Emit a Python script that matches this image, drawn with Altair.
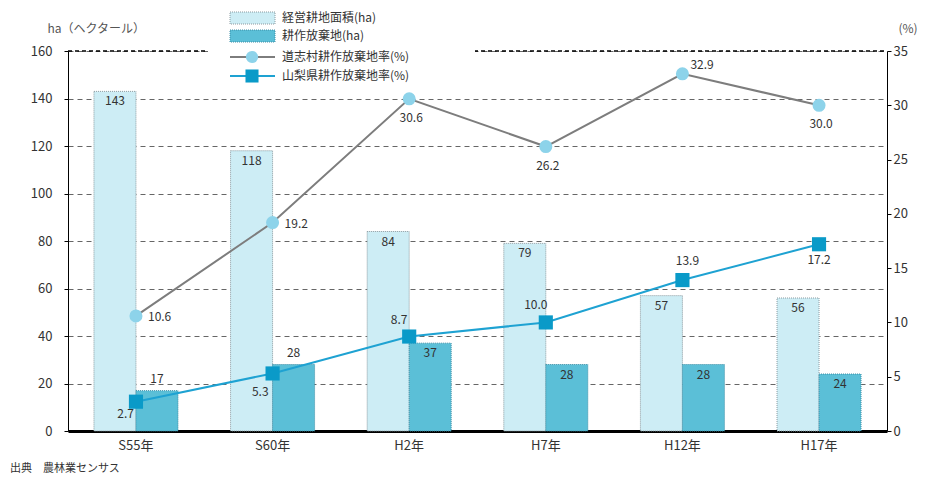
import altair as alt
import pandas as pd

# ---- data ----
years = ["S55年", "S60年", "H2年", "H7年", "H12年", "H17年"]
area = [143, 118, 84, 79, 57, 56]
abandoned = [17, 28, 37, 28, 28, 24]
village_rate = [10.6, 19.2, 30.6, 26.2, 32.9, 30.0]
pref_rate = [2.7, 5.3, 8.7, 10.0, 13.9, 17.2]
kinds = ["経営耕地面積(ha)", "耕作放棄地(ha)"]
line_names = ["道志村耕作放棄地率(%)", "山梨県耕作放棄地率(%)"]
left_ticks = [0, 20, 40, 60, 80, 100, 120, 140, 160]
right_ticks = [0, 5, 10, 15, 20, 25, 30, 35]
y_title_left = "ha（ヘクタール）"
y_title_right = "(%)"
source = "出典　農林業センサス"

W, H = 819, 380
FONT = "Noto Sans CJK JP"
TXT = "#333333"

bars_df = pd.DataFrame({
    "year": years * 2,
    "kind": [kinds[0]] * len(years) + [kinds[1]] * len(years),
    "value": area + abandoned,
})
village_df = pd.DataFrame({"year": years, "rate": village_rate})
pref_df = pd.DataFrame({"year": years, "rate": pref_rate})
one = pd.DataFrame({"a": [0]})

x_enc = alt.X(
    "year:N", sort=years,
    scale=alt.Scale(domain=years, paddingInner=0.385, paddingOuter=0.19),
    axis=alt.Axis(title=None, labelAngle=0, labelFontSize=13, labelColor=TXT,
                  labelPadding=8, domainColor="black", domainWidth=3, ticks=False),
)
xoff = alt.XOffset("kind:N", scale=alt.Scale(domain=kinds))

y_left = alt.Y(
    "value:Q", scale=alt.Scale(domain=[0, 160]),
    axis=alt.Axis(values=left_ticks, title=y_title_left, titleAngle=0, titleX=-21,
                  titleY=-23, titleAlign="left", titleBaseline="middle",
                  titleFontSize=12, titleFontWeight="normal", titleColor="#555555",
                  labelFontSize=13, labelColor=TXT, labelPadding=12, grid=True,
                  gridDash=[5, 4], gridColor="#666666", gridWidth=1,
                  domainColor="black", tickColor="black", tickSize=4),
)
y_right = alt.Y(
    "rate:Q", scale=alt.Scale(domain=[0, 35]),
    axis=alt.Axis(orient="right", values=right_ticks, title=y_title_right, titleAngle=0,
                  titleX=11, titleY=-23, titleAlign="left", titleBaseline="middle",
                  titleFontSize=12, titleFontWeight="normal", titleColor="#555555",
                  labelFontSize=13, labelColor=TXT, grid=False, domainColor="black",
                  tickColor="black", tickSize=4),
)

LIGHT, DARK = "#cdedf5", "#5bbfd7"
bars = alt.Chart(bars_df).mark_bar(strokeDash=[1, 1], strokeWidth=1).encode(
    x=x_enc, xOffset=xoff, y=y_left,
    color=alt.Color("kind:N", scale=alt.Scale(domain=kinds, range=[LIGHT, DARK]), legend=None),
    stroke=alt.Stroke("kind:N", scale=alt.Scale(domain=kinds, range=["#8a9aa0", "#3d8ea6"]), legend=None),
)

inside_filter = f"datum.kind == '{kinds[0]}' || indexof(['H2年','H7年','H12年','H17年'], datum.year) >= 0"
bar_lab_in = alt.Chart(bars_df).transform_filter(inside_filter).mark_text(
    baseline="top", dy=5, fontSize=12, color=TXT).encode(
    x=x_enc, xOffset=xoff, y=y_left, text="value:Q")
bar_lab_out = alt.Chart(bars_df).transform_filter(f"!({inside_filter})").mark_text(
    baseline="bottom", dy=-5, fontSize=12, color=TXT).encode(
    x=x_enc, xOffset=xoff, y=y_left, text="value:Q")

# decorations: top dashed frame + legend
top_rule = alt.Chart(one).mark_rule(color="black", strokeDash=[4, 3], strokeWidth=1.5).encode(
    x=alt.value(0), x2=alt.value(W), y=alt.value(0))
legend_bg = alt.Chart(one).mark_rect(color="white").encode(
    x=alt.value(140), x2=alt.value(407), y=alt.value(-43), y2=alt.value(34))
leg_r1 = alt.Chart(one).mark_rect(color=LIGHT, stroke="#8a9aa0", strokeDash=[1, 1]).encode(
    x=alt.value(162), x2=alt.value(207), y=alt.value(-39), y2=alt.value(-27))
leg_r2 = alt.Chart(one).mark_rect(color=DARK, stroke="#3d8ea6", strokeDash=[1, 1]).encode(
    x=alt.value(162), x2=alt.value(207), y=alt.value(-21), y2=alt.value(-9))
leg_l3 = alt.Chart(one).mark_rule(color="#7d7d7d", strokeWidth=2).encode(
    x=alt.value(162), x2=alt.value(207), y=alt.value(6))
leg_p3 = alt.Chart(one).mark_point(shape="circle", filled=True, size=150, color="#8dd3ea", opacity=1).encode(
    x=alt.value(184), y=alt.value(6))
leg_l4 = alt.Chart(one).mark_rule(color="#1ea2d2", strokeWidth=2).encode(
    x=alt.value(162), x2=alt.value(207), y=alt.value(25))
leg_p4 = alt.Chart(one).mark_point(shape="square", filled=True, size=170, color="#0a9ac8", opacity=1).encode(
    x=alt.value(184), y=alt.value(25))
leg_texts = []
for lab, yy in zip(kinds + line_names, [-33, -15, 6, 25]):
    leg_texts.append(alt.Chart(one).mark_text(align="left", baseline="middle", fontSize=12, color=TXT).encode(
        x=alt.value(214), y=alt.value(yy), text=alt.value(lab)))
src = alt.Chart(one).mark_text(align="left", baseline="middle", fontSize=11, color=TXT).encode(
    x=alt.value(-58), y=alt.value(418), text=alt.value(source))

left_layer = alt.layer(bars, bar_lab_in, bar_lab_out, top_rule, legend_bg, leg_r1, leg_r2,
                       leg_l3, leg_p3, leg_l4, leg_p4, *leg_texts, src)

# lines
v_line = alt.Chart(village_df).mark_line(color="#7d7d7d", strokeWidth=2).encode(x=x_enc, y=y_right)
v_pts = alt.Chart(village_df).mark_point(shape="circle", filled=True, size=170, color="#8dd3ea", opacity=1).encode(
    x=x_enc, y=y_right)
p_line = alt.Chart(pref_df).mark_line(color="#1ea2d2", strokeWidth=2).encode(x=x_enc, y=y_right)
p_pts = alt.Chart(pref_df).mark_point(shape="square", filled=True, size=200, color="#0a9ac8", opacity=1).encode(
    x=x_enc, y=y_right)


def rate_labels(df, picks):
    out = []
    for ys, dx, dy, align in picks:
        out.append(alt.Chart(df).transform_filter(alt.FieldOneOfPredicate(field="year", oneOf=ys)).mark_text(
            dx=dx, dy=dy, align=align, baseline="middle", fontSize=12, color=TXT).encode(
            x=x_enc, y=y_right, text=alt.Text("rate:Q", format=".1f")))
    return out


v_labels = rate_labels(village_df, [
    (["S55年", "S60年"], 12, 1, "left"),
    (["H2年", "H7年", "H17年"], 2, 19, "center"),
    (["H12年"], 8, -9, "left"),
])
p_labels = rate_labels(pref_df, [
    (["S55年"], -2, 12, "right"),
    (["S60年"], -4, 19, "right"),
    (["H2年", "H7年"], -10, -17, "center"),
    (["H12年"], 5, -19, "center"),
    (["H17年"], 0, 16, "center"),
])

right_layer = alt.layer(v_line, p_line, v_pts, p_pts, *v_labels, *p_labels)

chart = alt.layer(left_layer, right_layer).resolve_scale(y="independent").properties(
    width=W, height=H,
    padding={"left": 60, "top": 43, "right": 33, "bottom": 49},
    autosize=alt.AutoSizeParams(type="none"),
).configure(font=FONT).configure_view(stroke=None)

chart.save("out.html", embed_options={"renderer": "svg", "actions": False})
